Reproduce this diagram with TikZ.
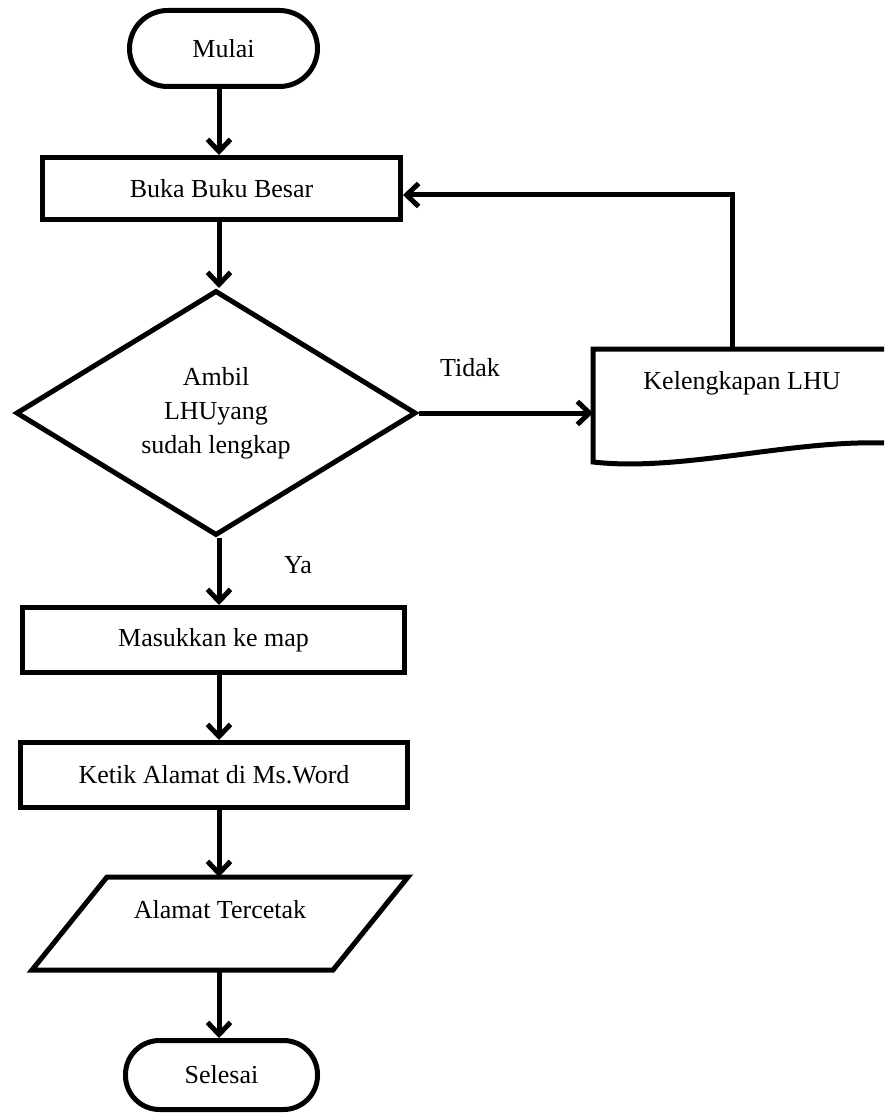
\documentclass[tikz,border=0pt]{standalone}
\usepackage{fontspec}
\setmainfont{Liberation Serif}
\usetikzlibrary{shapes.geometric,arrows.meta,calc}
\begin{document}
\begin{tikzpicture}[x=1pt,y=-1pt,
  every node/.style={font=\fontsize{26}{34}\selectfont, align=center},
  flow/.style={line width=5pt, draw=black},
  term/.style={flow, rectangle, inner sep=0pt},
  box/.style={flow, rectangle, inner sep=0pt},
  dec/.style={flow, diamond, aspect=1.63, inner sep=0pt, minimum width=400pt, minimum height=245pt},
  frame/.style={rectangle, draw=none, inner sep=0pt, outer sep=0pt},
  arr/.style={line width=5pt, -{Straight Barb[length=12pt,width=23pt]}}]
\useasboundingbox (0,0) rectangle (884,1115);

% process steps
\node[term, rounded corners=38pt, minimum width=188pt, minimum height=76pt] (start) at (223.5,48.5) {Mulai};
\node[box, minimum width=358pt, minimum height=62pt] (buka) at (221.5,188.5) {Buka Buku Besar};
\node[dec] (dia) at (216,413) {Ambil\\LHUyang\\sudah lengkap};
\node[box, minimum width=382pt, minimum height=65pt] (map) at (213.5,640) {Masukkan ke map};
\node[box, minimum width=387pt, minimum height=65pt] (ketik) at (214,775) {Ketik Alamat di Ms.Word};
\node[frame, minimum width=376pt, minimum height=93pt] (para) at (220,923.5) {};
\node (paratext) at (220,910) {Alamat Tercetak};
\node[term, rounded corners=34pt, minimum width=192pt, minimum height=69pt] (end) at (221.5,1075) {Selesai};

% document shape
\node[frame, minimum width=291pt, minimum height=113pt] (doc) at (738.5,405.5) {};
\node (doctext) at (742,383) {Kelengkapan LHU};
\draw[flow] (doc.north east) -- (doc.north west) -- (doc.south west)
  .. controls +(87,10) and ($(doc.south east)+(-94,-22)$) .. ($(doc.south east)+(0,-19)$);

% input/output parallelogram
\draw[flow] ($(para.north west)+(75,0)$) -- (para.north east)
  -- ($(para.south east)+(-75,0)$) -- (para.south west) -- cycle;

% connectors
\coordinate (axis) at (219,0);
\coordinate (fb) at (732,195);
\draw[arr] (start.south -| axis) -- (buka.north -| axis);
\draw[arr] (buka.south -| axis) -- (dia.north -| axis);
\draw[arr] (dia.south -| axis) -- (map.north -| axis);
\draw[arr] (map.south -| axis) -- (ketik.north -| axis);
\draw[arr] (ketik.south -| axis) -- (para.north -| axis);
\draw[arr] (para.south -| axis) -- (end.north -| axis);
\draw[arr] (dia.east) -- (dia.east -| doc.west);
\draw[arr] (fb |- doc.north) -- (fb) -- (fb -| buka.east);

% branch labels
\node (tidak) at (470,368) {Tidak};
\node (ya) at (298,565) {Ya};
\end{tikzpicture}
\end{document}
